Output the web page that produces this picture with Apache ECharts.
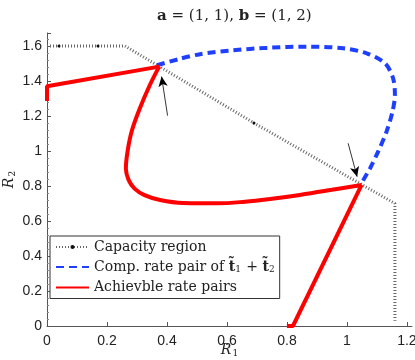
<!DOCTYPE html>
<html>
<head>
<meta charset="utf-8">
<script src="https://cdn.jsdelivr.net/npm/echarts@6/dist/echarts.min.js"></script>
<style>
  html, body { margin: 0; padding: 0; background: #fff; }
  #chart { width: 415px; height: 360px; }
</style>
</head>
<body>
<div id="chart"></div>
<script>
  // capacity region boundary (corners) and where the dot markers sit
  var capacityPts = [[0, 1.6], [0.04, 1.6], [0.17, 1.6], [0.26, 1.6], [0.69, 1.16], [1.16, 0.70], [1.16, 0.03]]
  var capacityDots = [1, 2, 4]

  // computed rate pair of t1 + t2
  var compPts = [
    [0.367, 1.49], [0.44, 1.525], [0.51, 1.553], [0.62, 1.575], [0.733, 1.589], [0.866, 1.596],
    [0.987, 1.587], [1.066, 1.558], [1.127, 1.501], [1.154, 1.415], [1.16, 1.32], [1.152, 1.225],
    [1.132, 1.11], [1.104, 0.996], [1.077, 0.90], [1.052, 0.825], [1.049, 0.806]
  ]

  // achievable rate pairs: left segment, curve, right segment
  var achLeft = [[0, 1.285], [0, 1.37], [0.374, 1.482]]
  var achCurve = [
    [0.374, 1.482], [0.343, 1.377], [0.31, 1.246], [0.282, 1.11], [0.268, 0.99], [0.263, 0.90],
    [0.272, 0.835], [0.292, 0.785], [0.325, 0.748], [0.377, 0.72], [0.454, 0.703], [0.566, 0.701],
    [0.66, 0.71], [0.75, 0.727], [0.843, 0.749], [0.95, 0.778], [1.049, 0.806]
  ]
  var achRight = [[1.049, 0.806], [0.82, 0], [0.80, 0]]

  // arrows: [tail, head]
  var arrows = [[[0.402, 1.202], [0.382, 1.425]], [[1.004, 1.044], [1.034, 0.853]]]

  var legendNames = ['Capacity region', 'Comp. rate pair of t1+t2', 'Achievble rate pairs']

  var myChart = echarts.init(document.getElementById('chart'))

  var axisCommon = {
    type: 'value',
    min: 0,
    interval: 0.2,
    splitLine: { show: false },
    axisLine: { lineStyle: { color: '#555', width: 1 } },
    axisTick: { inside: true, length: 4, lineStyle: { color: '#555' } },
    axisLabel: {
      showMaxLabel: false,
      color: '#222',
      fontFamily: 'Liberation Sans',
      fontSize: 14,
      formatter: function (v) { return String(Math.round(v * 10) / 10) }
    }
  }

  var nameStyle = {
    rich: {
      i: { fontFamily: 'DejaVu Serif', fontStyle: 'italic', fontSize: 14, color: '#222' },
      s: { fontFamily: 'DejaVu Serif', fontSize: 9, color: '#222', padding: [6, 0, 0, 1] }
    }
  }

  var option = {
    animation: false,
    title: {
      text: '{b|a} = (1, 1), {b|b} = (1, 2)',
      left: 152,
      top: 4,
      textStyle: {
        fontFamily: 'DejaVu Serif',
        fontSize: 15,
        fontWeight: 'normal',
        color: '#222',
        rich: { b: { fontFamily: 'DejaVu Serif', fontSize: 15, fontWeight: 'bold', color: '#222' } }
      }
    },
    grid: { left: 47, right: 3, top: 33, bottom: 34, outerBoundsMode: 'none', containLabel: false },
    legend: {
      orient: 'vertical',
      left: 50,
      top: 236,
      padding: [4, 5, 4, 5],
      itemWidth: 33,
      itemHeight: 5,
      itemGap: 6,
      borderColor: '#333',
      borderWidth: 1,
      backgroundColor: '#fff',
      data: [
        { name: legendNames[0], itemStyle: { color: '#111', borderWidth: 0 } },
        { name: legendNames[1], itemStyle: { opacity: 0 } },
        { name: legendNames[2], itemStyle: { opacity: 0 } }
      ],
      formatter: function (name) {
        if (name === legendNames[1]) {
          return 'Comp. rate pair of {b|t\u0303}{s|1} + {b|t\u0303}{s|2}'
        }
        return name
      },
      textStyle: {
        fontFamily: 'DejaVu Serif',
        fontSize: 14,
        color: '#222',
        rich: {
          b: { fontFamily: 'DejaVu Serif', fontSize: 14, fontWeight: 'bold', color: '#222' },
          s: { fontFamily: 'DejaVu Serif', fontSize: 9, color: '#222', padding: [6, 1, 0, 0] }
        }
      }
    },
    xAxis: Object.assign({}, axisCommon, {
      max: 1.217,
      name: '{i|R}{s|1}',
      nameLocation: 'middle',
      nameGap: 17,
      nameMoveOverlap: false,
      nameTextStyle: nameStyle
    }),
    yAxis: Object.assign({}, axisCommon, {
      max: 1.674,
      minorTick: { show: true, splitNumber: 5, length: 2, lineStyle: { color: '#888' } },
      axisLabel: Object.assign({}, axisCommon.axisLabel, { margin: 5 }),
      name: '{i|R}{s|2}',
      nameLocation: 'middle',
      nameRotate: 90,
      nameGap: 30,
      nameMoveOverlap: false,
      nameTextStyle: nameStyle
    }),
    series: [
      {
        name: legendNames[0],
        type: 'line',
        symbol: 'circle',
        symbolSize: 3,
        showSymbol: true,
        itemStyle: { color: '#111' },
        lineStyle: { color: '#666', width: 3, type: [1, 2] },
        data: capacityPts.map(function (p, i) {
          return capacityDots.indexOf(i) >= 0 ? { value: p } : { value: p, symbol: 'none' }
        }),
        z: 2
      },
      {
        name: legendNames[1],
        type: 'line',
        symbol: 'none',
        smooth: 0.3,
        itemStyle: { color: '#1f3fff' },
        lineStyle: { color: '#1f3fff', width: 4, type: [8, 5] },
        data: compPts,
        z: 3,
        markLine: {
          silent: true,
          symbol: ['none', 'arrow'],
          symbolSize: [7, 10],
          label: { show: false },
          lineStyle: { color: '#000', width: 0.8, type: 'solid' },
          data: arrows.map(function (a) { return [{ coord: a[0] }, { coord: a[1] }] })
        }
      },
      {
        name: legendNames[2],
        type: 'line',
        symbol: 'none',
        itemStyle: { color: '#ff0000' },
        lineStyle: { color: '#ff0000', width: 4 },
        data: achLeft,
        z: 4
      },
      {
        name: legendNames[2],
        type: 'line',
        symbol: 'none',
        smooth: 0.4,
        itemStyle: { color: '#ff0000' },
        lineStyle: { color: '#ff0000', width: 4 },
        data: achCurve,
        z: 4
      },
      {
        name: legendNames[2],
        type: 'line',
        symbol: 'none',
        itemStyle: { color: '#ff0000' },
        lineStyle: { color: '#ff0000', width: 4 },
        data: achRight,
        z: 4
      }
    ]
  }

  myChart.setOption(option)
</script>
</body>
</html>
